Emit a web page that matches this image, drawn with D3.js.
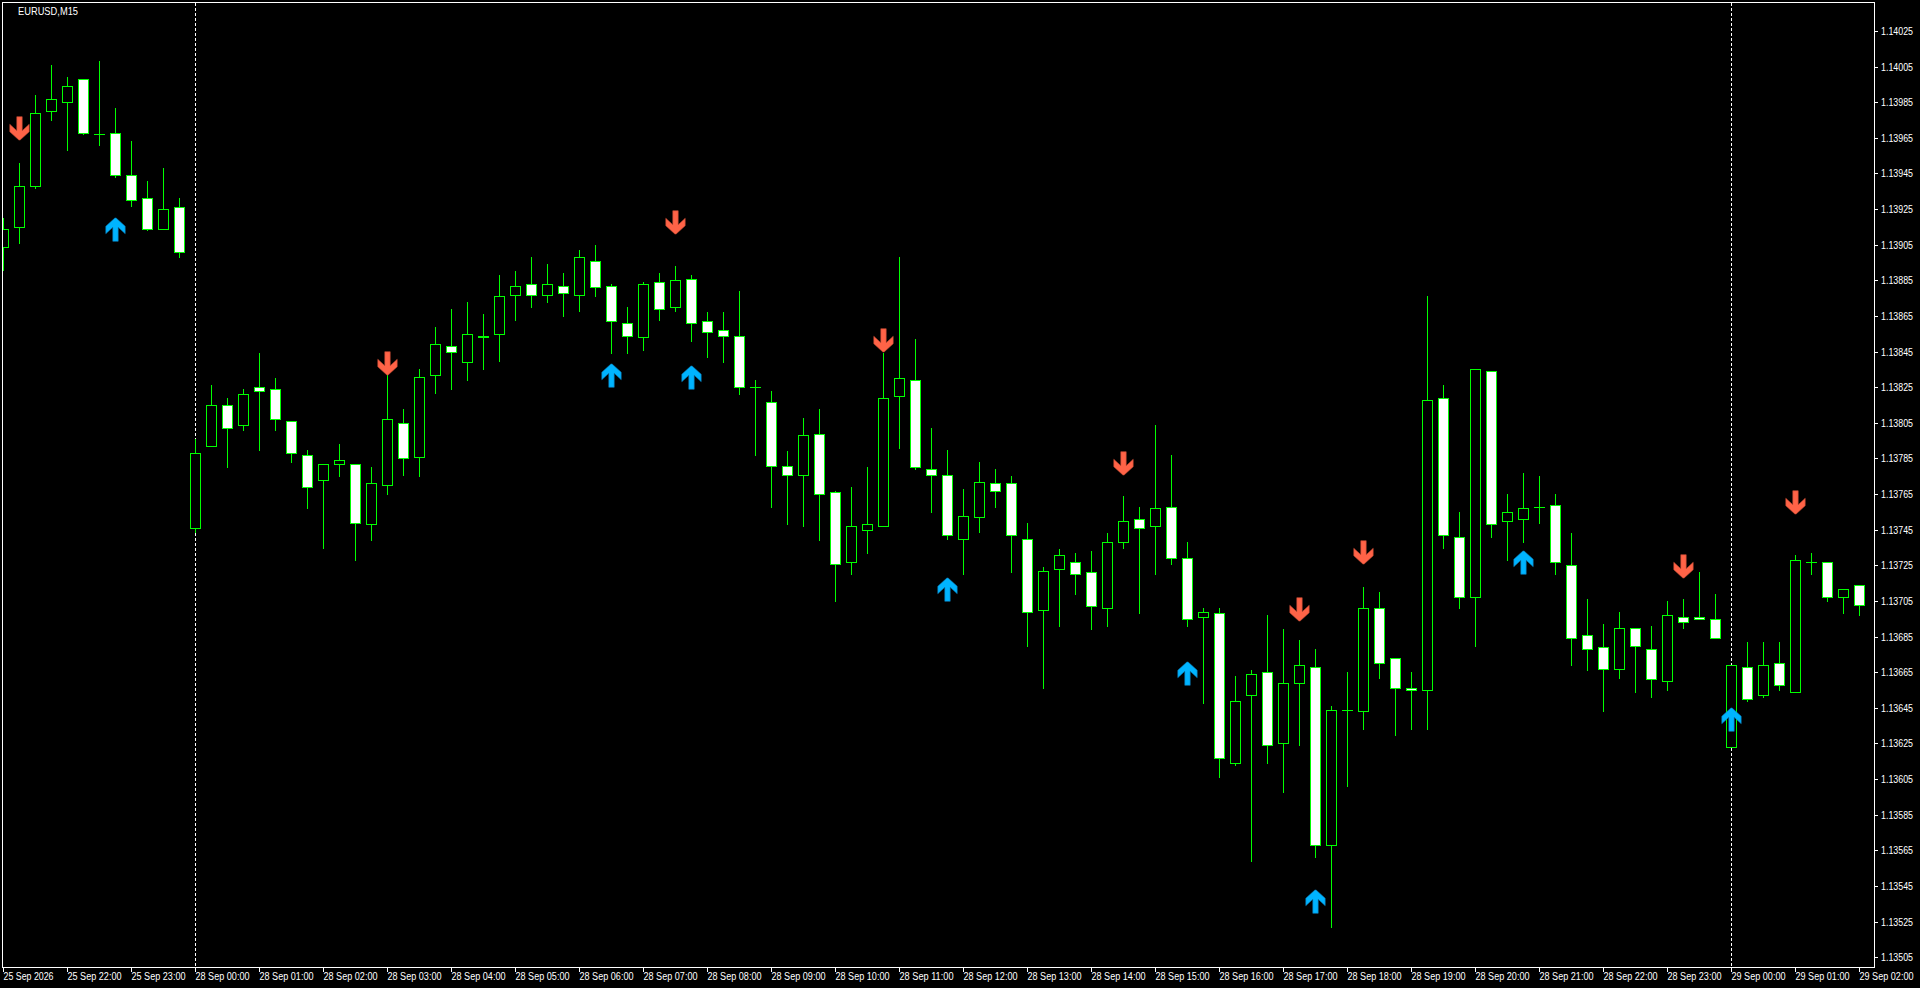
<!DOCTYPE html>
<html>
<head>
<meta charset="utf-8">
<script src="https://cdn.jsdelivr.net/npm/d3@7"></script>
<style>
html,body{margin:0;padding:0;background:#000;overflow:hidden;}
svg{display:block;}
text{font-family:"Liberation Sans",Arial,sans-serif;fill:#fff;}
</style>
</head>
<body>
<svg id="chart" width="1920" height="988"></svg>
<script>
const symbolTitle = "EURUSD,M15";

const opens = [1.13904,1.13915,1.13938,1.13980,1.13985,1.13998,1.13967,1.13968,1.13944,1.13931,1.13914,1.13926,
1.13746,1.13792,1.13815,1.13804,1.13825,1.13824,1.13806,1.13787,1.13773,1.13782,1.13782,1.13748,1.13770,1.13805,1.13786,
1.13832,1.13848,1.13839,1.13854,1.13855,1.13877,1.13883,1.13877,1.13882,1.13877,1.13896,1.13882,1.13861,1.13853,1.13884,
1.13870,1.13886,1.13862,1.13857,1.13854,1.13825,1.13817,1.13781,1.13776,1.13799,1.13766,1.13727,1.13745,1.13747,1.13820,
1.13829,1.13779,1.13776,1.13740,1.13752,1.13771,1.13771,1.13740,1.13700,1.13723,1.13727,1.13721,1.13701,1.13738,1.13751,
1.13747,1.13758,1.13729,1.13696,1.13698,1.13614,1.13652,1.13665,1.13625,1.13659,1.13668,1.13568,1.13644,1.13643,1.13701,
1.13673,1.13656,1.13655,1.13819,1.13741,1.13707,1.13834,1.13750,1.13751,1.13758,1.13759,1.13725,1.13686,1.13679,1.13667,
1.13690,1.13678,1.13660,1.13696,1.13696,1.13695,1.13623,1.13668,1.13652,1.13670,1.13654,1.13727,1.13727,1.13707,1.13714];

const highs = [1.13920,1.13951,1.13989,1.14006,1.13999,1.13998,1.14008,1.13982,1.13963,1.13941,1.13948,1.13931,
1.13796,1.13826,1.13819,1.13824,1.13844,1.13830,1.13806,1.13790,1.13782,1.13793,1.13782,1.13780,1.13832,1.13813,1.13835,
1.13859,1.13869,1.13873,1.13866,1.13888,1.13890,1.13898,1.13894,1.13889,1.13902,1.13905,1.13883,1.13870,1.13884,1.13889,
1.13893,1.13888,1.13867,1.13867,1.13879,1.13829,1.13823,1.13789,1.13808,1.13813,1.13767,1.13769,1.13780,1.13844,1.13898,
1.13852,1.13802,1.13790,1.13768,1.13783,1.13779,1.13775,1.13749,1.13724,1.13734,1.13732,1.13733,1.13743,1.13764,1.13758,
1.13804,1.13787,1.13738,1.13701,1.13701,1.13663,1.13666,1.13697,1.13689,1.13683,1.13678,1.13646,1.13665,1.13713,1.13710,
1.13673,1.13665,1.13876,1.13826,1.13755,1.13835,1.13834,1.13765,1.13777,1.13775,1.13765,1.13743,1.13706,1.13692,1.13699,
1.13690,1.13691,1.13705,1.13706,1.13721,1.13709,1.13669,1.13682,1.13682,1.13682,1.13731,1.13732,1.13727,1.13712,1.13714];

const lows = [1.13891,1.13906,1.13937,1.13975,1.13958,1.13967,1.13961,1.13943,1.13927,1.13913,1.13914,1.13898,
1.13744,1.13792,1.13780,1.13801,1.13790,1.13801,1.13783,1.13757,1.13735,1.13775,1.13728,1.13739,1.13765,1.13776,1.13775,
1.13822,1.13824,1.13829,1.13835,1.13840,1.13863,1.13870,1.13873,1.13865,1.13868,1.13876,1.13844,1.13844,1.13846,1.13863,
1.13868,1.13851,1.13842,1.13839,1.13821,1.13787,1.13758,1.13748,1.13747,1.13739,1.13705,1.13720,1.13732,1.13747,1.13791,
1.13779,1.13755,1.13740,1.13720,1.13744,1.13758,1.13721,1.13680,1.13656,1.13691,1.13709,1.13689,1.13691,1.13735,1.13698,
1.13720,1.13726,1.13691,1.13648,1.13606,1.13613,1.13559,1.13614,1.13598,1.13624,1.13561,1.13522,1.13601,1.13633,1.13662,
1.13630,1.13633,1.13633,1.13735,1.13701,1.13680,1.13741,1.13728,1.13738,1.13749,1.13720,1.13669,1.13666,1.13643,1.13662,
1.13654,1.13651,1.13655,1.13690,1.13695,1.13684,1.13623,1.13649,1.13651,1.13655,1.13654,1.13720,1.13705,1.13698,1.13697];

const closes = [1.13914,1.13938,1.13979,1.13987,1.13994,1.13968,1.13967,1.13944,1.13930,1.13914,1.13925,1.13901,
1.13788,1.13815,1.13802,1.13821,1.13823,1.13807,1.13788,1.13769,1.13782,1.13784,1.13749,1.13771,1.13807,1.13785,1.13831,
1.13849,1.13845,1.13855,1.13853,1.13876,1.13882,1.13877,1.13883,1.13878,1.13898,1.13881,1.13862,1.13854,1.13883,1.13869,
1.13885,1.13861,1.13856,1.13854,1.13825,1.13825,1.13781,1.13776,1.13798,1.13765,1.13726,1.13747,1.13748,1.13819,1.13830,
1.13780,1.13776,1.13742,1.13753,1.13772,1.13767,1.13742,1.13699,1.13722,1.13731,1.13720,1.13702,1.13738,1.13750,1.13746,
1.13757,1.13729,1.13695,1.13699,1.13617,1.13649,1.13664,1.13624,1.13659,1.13669,1.13568,1.13644,1.13644,1.13701,1.13670,
1.13656,1.13655,1.13818,1.13742,1.13707,1.13835,1.13748,1.13755,1.13757,1.13758,1.13727,1.13684,1.13678,1.13667,1.13690,
1.13680,1.13661,1.13697,1.13693,1.13695,1.13684,1.13669,1.13650,1.13669,1.13658,1.13728,1.13727,1.13707,1.13712,1.13703];

const downArrowBars = [1,24,42,55,70,81,85,105,112];
const downArrowPrices = [1.13964,1.13832,1.13911,1.13845,1.13776,1.13694,1.13726,1.13718,1.13754];
const upArrowBars = [7,38,43,59,74,82,95,108];
const upArrowPrices = [1.13920,1.13838,1.13837,1.13718,1.13671,1.13543,1.13733,1.13645];

const separatorBars = [12,108];

const priceTicks = ["1.14025","1.14005","1.13985","1.13965","1.13945","1.13925","1.13905","1.13885","1.13865",
"1.13845","1.13825","1.13805","1.13785","1.13765","1.13745","1.13725","1.13705","1.13685","1.13665","1.13645",
"1.13625","1.13605","1.13585","1.13565","1.13545","1.13525","1.13505"];

const timeTickBars = [0,4,8,12,16,20,24,28,32,36,40,44,48,52,56,60,64,68,72,76,80,84,88,92,96,100,104,108,112,116];
const timeTickLabels = ["25 Sep 2026","25 Sep 22:00","25 Sep 23:00","28 Sep 00:00","28 Sep 01:00","28 Sep 02:00",
"28 Sep 03:00","28 Sep 04:00","28 Sep 05:00","28 Sep 06:00","28 Sep 07:00","28 Sep 08:00","28 Sep 09:00",
"28 Sep 10:00","28 Sep 11:00","28 Sep 12:00","28 Sep 13:00","28 Sep 14:00","28 Sep 15:00","28 Sep 16:00",
"28 Sep 17:00","28 Sep 18:00","28 Sep 19:00","28 Sep 20:00","28 Sep 21:00","28 Sep 22:00","28 Sep 23:00",
"29 Sep 00:00","29 Sep 01:00","29 Sep 02:00"];

// ---- layout / style ----
const W = 1920, H = 988;
const plot = {left: 2, top: 2, right: 1874, bottom: 967};
const lime = "#00ff00";

const svg = d3.select("#chart");
svg.append("rect").attr("x",0).attr("y",0).attr("width",W).attr("height",H).attr("fill","#000");

const y = d3.scaleLinear().domain([1.13505, 1.14025]).range([957.25, 31]);
const x = d3.scaleLinear().domain([0, 116]).range([3.5, 1859.5]);

const defs = svg.append("defs");
defs.append("clipPath").attr("id","plotclip").append("rect")
  .attr("x", plot.left+1).attr("y", plot.top+1)
  .attr("width", plot.right-plot.left-1).attr("height", plot.bottom-plot.top-1);

const g = svg.append("g").attr("clip-path","url(#plotclip)");

// period separators
g.selectAll("line.sep").data(separatorBars).join("line")
  .attr("class","sep")
  .attr("x1", d => x(d)).attr("x2", d => x(d))
  .attr("y1", plot.top+1).attr("y2", plot.bottom)
  .attr("stroke","#fff").attr("stroke-width",1).attr("stroke-dasharray","3,2")
  .attr("shape-rendering","crispEdges");

const bars = opens.map((o,i) => ({i, o, h: highs[i], l: lows[i], c: closes[i]}));

// wicks
g.selectAll("line.wick").data(bars).join("line")
  .attr("class","wick")
  .attr("x1", d => x(d.i)).attr("x2", d => x(d.i))
  .attr("y1", d => Math.round(y(d.h)))
  .attr("y2", d => Math.round(y(d.l)) + 1)
  .attr("stroke", lime).attr("stroke-width",1)
  .attr("shape-rendering","crispEdges");

// bodies
bars.forEach(d => {
  const top = Math.round(y(Math.max(d.o, d.c)));
  const bot = Math.round(y(Math.min(d.o, d.c)));
  const cx = x(d.i);
  if (bot === top) {
    g.append("line")
      .attr("x1", cx - 5.5).attr("x2", cx + 5.5)
      .attr("y1", top + 0.5).attr("y2", top + 0.5)
      .attr("stroke", lime).attr("stroke-width",1)
      .attr("shape-rendering","crispEdges");
  } else {
    g.append("rect")
      .attr("x", cx - 5).attr("y", top + 0.5)
      .attr("width", 10).attr("height", bot - top)
      .attr("fill", d.c < d.o ? "#ffffff" : "#000000")
      .attr("stroke", lime).attr("stroke-width",1)
      .attr("shape-rendering","crispEdges");
  }
});

// arrows
const arrowShape = [[-2.7,-23.3],[2.7,-23.3],[2.7,-9.3],[9.7,-15.7],[9.7,-8.3],[0.6,0],[-0.6,0],[-9.7,-8.3],[-9.7,-15.7],[-2.7,-9.3]];
function arrowPath(dir){
  const p = d3.path();
  arrowShape.forEach((pt,k) => {
    const px = pt[0], py = dir === "down" ? pt[1] : -pt[1];
    if (k === 0) p.moveTo(px, py); else p.lineTo(px, py);
  });
  p.closePath();
  return p.toString();
}
g.selectAll("path.down").data(downArrowBars).join("path")
  .attr("class","down")
  .attr("d", arrowPath("down"))
  .attr("transform", (d,k) => `translate(${x(d)},${Math.round(y(downArrowPrices[k]))})`)
  .attr("fill","#ff6347").attr("stroke","#c44a33").attr("stroke-width",0.6);
g.selectAll("path.up").data(upArrowBars).join("path")
  .attr("class","up")
  .attr("d", arrowPath("up"))
  .attr("transform", (d,k) => `translate(${x(d)},${Math.round(y(upArrowPrices[k]))})`)
  .attr("fill","#00b4ff").attr("stroke","#0a78b4").attr("stroke-width",0.6);

// plot border
svg.append("rect")
  .attr("x", plot.left + 0.5).attr("y", plot.top + 0.5)
  .attr("width", plot.right - plot.left).attr("height", plot.bottom - plot.top)
  .attr("fill","none").attr("stroke","#fff").attr("stroke-width",1)
  .attr("shape-rendering","crispEdges");

// price axis
const yAxisG = svg.append("g");
priceTicks.forEach(t => {
  const yy = Math.round(y(+t)) + 0.5;
  yAxisG.append("line").attr("x1", plot.right + 1).attr("x2", plot.right + 4)
    .attr("y1", yy).attr("y2", yy).attr("stroke","#fff").attr("shape-rendering","crispEdges");
  yAxisG.append("text").attr("x", plot.right + 7).attr("y", yy + 3.5)
    .attr("font-size", 10).attr("textLength", 32).attr("lengthAdjust","spacingAndGlyphs")
    .text(t);
});

// time axis
const xAxisG = svg.append("g");
timeTickBars.forEach((b,k) => {
  const xx = x(b);
  xAxisG.append("line").attr("x1", xx).attr("x2", xx)
    .attr("y1", plot.bottom + 1).attr("y2", plot.bottom + 5)
    .attr("stroke","#fff").attr("shape-rendering","crispEdges");
  const lbl = timeTickLabels[k];
  xAxisG.append("text").attr("x", xx).attr("y", plot.bottom + 13)
    .attr("font-size", 10)
    .attr("textLength", lbl.length === 11 ? 50 : 54).attr("lengthAdjust","spacingAndGlyphs")
    .text(lbl);
});

// title
svg.append("text").attr("x", 18).attr("y", 14.5)
  .attr("font-size", 10.5).attr("textLength", 60).attr("lengthAdjust","spacingAndGlyphs")
  .text(symbolTitle);
</script>
</body>
</html>
